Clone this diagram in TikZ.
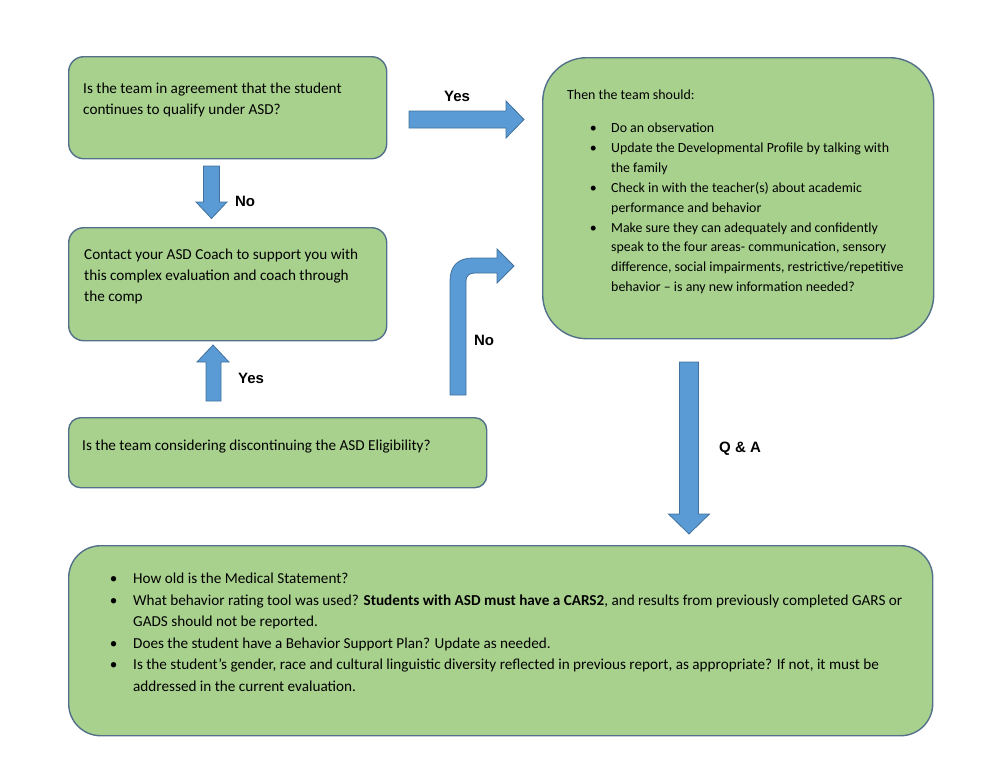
\documentclass[tikz,border=0pt]{standalone}
\usepackage{fontspec}
\setmainfont{Carlito}
\newfontfamily\labelfont{Liberation Sans}
\usetikzlibrary{positioning}
\definecolor{boxgreen}{HTML}{A9D18E}
\definecolor{boxline}{HTML}{52708A}
\definecolor{arrowblue}{HTML}{5B9BD5}
\definecolor{arrowline}{HTML}{41719C}
\newcommand{\bul}{\llap{\textbullet\hskip 14.5pt}}
\newcommand{\bulw}{\llap{\textbullet\hskip 15.7pt}}
\tikzset{
  basic/.style  = {draw=boxline, fill=boxgreen, line width=1.4pt, rectangle,
                   anchor=north west, inner sep=0pt},
  question/.style = {basic, rounded corners=15pt},
  steps/.style  = {basic, rounded corners=44pt},
  review/.style = {basic, rounded corners=32pt},
  txt/.style    = {anchor=base west, align=left, inner sep=0pt,
                   font=\fontsize{15.2}{21}\selectfont},
  block/.style  = {fill=arrowblue, draw=arrowline, line width=0.8pt},
  lbl/.style    = {font=\labelfont\bfseries\fontsize{15}{18}\selectfont}
}
\begin{document}
\begin{tikzpicture}[x=1pt, y=-1pt]
\useasboundingbox (0,0) rectangle (1000,772);

% boxes
\node[question, minimum width=318, minimum height=102] (q1) at (68,56) {};
\node[question, minimum width=318, minimum height=113] (q2) at (68,227) {};
\node[question, rounded corners=12pt, minimum width=418, minimum height=70] (q3) at (68,417) {};
\node[steps, minimum width=391, minimum height=281] (s1) at (542,57) {};
\node[review, minimum width=864, minimum height=190] (r1) at (68,545) {};

% texts inside the boxes (base = last line)
\node[txt] (q1t) at ([shift={(15,58.5)}]q1.north west)
  {Is the team in agreement that the student\\continues to qualify under ASD?};
\node[txt] (q2t) at ([shift={(16,74.5)}]q2.north west)
  {Contact your ASD Coach to support you with\\this complex evaluation and coach through\\the comp};
\node[txt] (q3t) at ([shift={(14,33)}]q3.north west)
  {Is the team considering discontinuing the ASD Eligibility?};
\node[txt, font=\fontsize{13.9}{19.9}\selectfont] (s1h) at ([shift={(25,42.5)}]s1.north west)
  {Then the team should:};
\node[txt, font=\fontsize{13.9}{19.9}\selectfont] (s1t) at ([shift={(69,234.7)}]s1.north west)
  {\bul Do an observation\\
   \bul Update the Developmental Profile by talking with\\
   the family\\
   \bul Check in with the teacher(s) about academic\\
   performance and behavior\\
   \bul Make sure they can adequately and confidently\\
   speak to the four areas- communication, sensory\\
   difference, social impairments, restrictive/repetitive\\
   behavior -- is any new information needed?};
\node[txt, font=\fontsize{15.2}{21.6}\selectfont] (r1t) at ([shift={(65,146.5)}]r1.north west)
  {\bulw How old is the Medical Statement?\\
   \bulw What behavior rating tool was used? \textbf{Students with ASD must have a CARS2}, and results from previously completed GARS or\\
   GADS should not be reported.\\
   \bulw Does the student have a Behavior Support Plan? Update as needed.\\
   \bulw Is the student’s gender, race and cultural linguistic diversity reflected in previous report, as appropriate? If not, it must be\\
   addressed in the current evaluation.};

% block arrows
\filldraw[block] (409,111) -- (506,111) -- (506,101) -- (524,119.5) -- (506,138)
  -- (506,128) -- (409,128) -- cycle;
\filldraw[block] (203.5,166) -- (219.5,166) -- (219.5,202) -- (227,202) -- (211.5,218.5)
  -- (196,202) -- (203.5,202) -- cycle;
\filldraw[block] (206,401) -- (221,401) -- (221,362) -- (229,362) -- (213,345)
  -- (197,362) -- (206,362) -- cycle;
\filldraw[block] (450,395) -- (450,281) .. controls (450,266) and (458,258) .. (473,258)
  -- (497,258) -- (497,249) -- (514,266) -- (497,283) -- (497,273) -- (475,273)
  .. controls (469,273) and (466,276) .. (466,281) -- (466,395) -- cycle;
\filldraw[block] (679.5,362) -- (698.5,362) -- (698.5,514) -- (709.5,514) -- (689,534)
  -- (668.5,514) -- (679.5,514) -- cycle;

% labels of the arrows
\node[lbl] (ly1) at (457,96) {Yes};
\node[lbl] (ln1) at (245,201) {No};
\node[lbl] (ly2) at (251,378) {Yes};
\node[lbl] (ln2) at (484,340) {No};
\node[lbl] (lqa) at (740,449) {Q \& A};
\end{tikzpicture}
\end{document}
